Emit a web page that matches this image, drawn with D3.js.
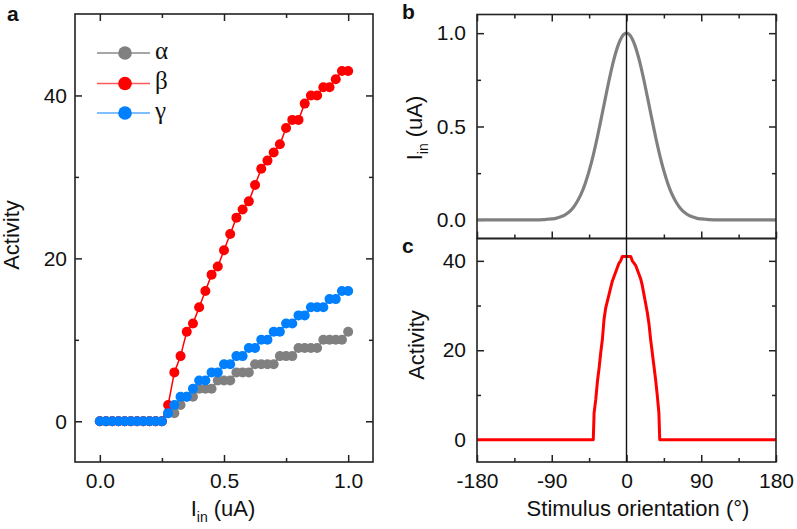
<!DOCTYPE html>
<html><head><meta charset="utf-8">
<script src="https://cdn.jsdelivr.net/npm/d3@7"></script>
<style>
body{margin:0;background:#fff}
svg{display:block}
text{font-family:Arial,"Liberation Sans",Helvetica,sans-serif;fill:#111}
</style>
</head><body>
<svg id="chart" width="797" height="529"></svg>
<script>
// ---------- Panel a data ----------
const iIn = [0,0.025,0.05,0.075,0.1,0.125,0.15,0.175,0.2,0.225,0.25,0.275,0.3,0.325,0.35,0.375,0.4,0.425,0.45,0.475,0.5,0.525,0.55,0.575,0.6,0.625,0.65,0.675,0.7,0.725,0.75,0.775,0.8,0.825,0.85,0.875,0.9,0.925,0.95,0.975,1.0];
const alphaAct = [0,0,0,0,0,0,0,0,0,0,0,1,1,2,3,3,4,4,4,5,5,5,6,6,6,7,7,7,7,8,8,8,9,9,9,9,10,10,10,10,11];
const betaAct  = [0,0,0,0,0,0,0,0,0,0,0,2,6,8,11,12,14,16,18,19,21,23,25,26,27,29,31,32,33,34,36,37,37,39,40,40,41,41,42,43,43];
const gammaAct = [0,0,0,0,0,0,0,0,0,0,0,1,2,3,3,4,5,5,6,6,7,7,8,8,9,9,10,10,11,11,12,12,13,13,14,14,14,15,15,16,16];
const seriesNames = ["α","β","γ"];
const xTicksA = [0,0.5,1.0];
const yTicksA = [0,20,40];

// ---------- Panel b data ----------
const orientB = [-180,-150,-120,-110,-100,-95,-90,-85,-80,-75,-70,-65,-60,-55,-50,-45,-40,-35,-30,-25,-20,-15,-10,-5,0,5,10,15,20,25,30,35,40,45,50,55,60,65,70,75,80,85,90,95,100,110,120,150,180];
const inputB  = [0,0,0,0,0.001,0.003,0.005,0.008,0.015,0.024,0.039,0.061,0.093,0.135,0.191,0.262,0.347,0.445,0.552,0.662,0.768,0.862,0.936,0.984,1.0,0.984,0.936,0.862,0.768,0.662,0.552,0.445,0.347,0.262,0.191,0.135,0.093,0.061,0.039,0.024,0.015,0.008,0.005,0.003,0.001,0,0,0,0];
const yTicksB = [0,0.5,1.0];

// ---------- Panel c data ----------
const orientC = [-180,-40,-39,-37,-35,-33,-31,-29,-27,-25,-23,-21,-19,-17,-15,-13,-11,-9,-7,-5,0,5,7,9,11,13,15,17,19,21,23,25,27,29,31,33,35,37,39,40,180];
const activityC = [0,0,6,9,13,16,19.5,22.5,27,29.5,31,32.5,34,35.5,36.5,37.5,38.5,39.5,40,41,41,41,40,39.5,39,38,37,36,34.5,32.5,30.5,28.5,26,22.5,19.5,16.5,13.5,10,6,0,0];
const xTicksOrient = [-180,-90,0,90,180];
const yTicksC = [0,20,40];

// ---------- styles ----------
const colGray = "#808080", colRed = "#ff0000", colBlue = "#0080ff";
const legendLine = ["#8a8a8a","#ff5a5a","#55aaff"];
const seriesCol = [colGray, colRed, colBlue];
const frameCol = "#222";
const tickFont = 21, titleFont = 22;

const svg = d3.select("#chart");

function styleAxis(g){
  g.select(".domain").remove();
  g.selectAll(".tick line").attr("stroke", frameCol).attr("stroke-width", 1.5);
  g.selectAll(".tick text").attr("font-size", tickFont).attr("fill", "#111")
    .attr("font-family", 'Arial,"Liberation Sans",sans-serif');
}
function addAxis(axisGen, scale, tr, values, opts){
  const major = opts.major, size = major ? 7 : 4;
  let ax = axisGen(scale).tickValues(values).tickSizeInner(-size).tickSizeOuter(0);
  if (opts.labels) ax = ax.tickFormat(opts.fmt).tickPadding(opts.pad); else ax = ax.tickFormat("");
  const g = svg.append("g").attr("transform", tr).call(ax);
  styleAxis(g);
  return g;
}

// ================= Panel a =================
const xA = d3.scaleLinear([-0.1, 1.1], [75, 373]);
const yA = d3.scaleLinear([-5, 50], [462, 14]);
const fmt1 = d3.format(".1f");

addAxis(d3.axisBottom, xA, "translate(0,462)", xTicksA, {major:true, labels:true, fmt:fmt1, pad:11});
addAxis(d3.axisBottom, xA, "translate(0,462)", [0.25,0.75], {major:false});
addAxis(d3.axisTop, xA, "translate(0,14)", xTicksA, {major:true});
addAxis(d3.axisTop, xA, "translate(0,14)", [0.25,0.75], {major:false});
addAxis(d3.axisLeft, yA, "translate(75,0)", yTicksA, {major:true, labels:true, fmt:d=>String(d), pad:8});
addAxis(d3.axisLeft, yA, "translate(75,0)", [10,30], {major:false});
addAxis(d3.axisRight, yA, "translate(373,0)", yTicksA, {major:true});
addAxis(d3.axisRight, yA, "translate(373,0)", [10,30], {major:false});

const seriesA = [alphaAct, betaAct, gammaAct];
const lineA = d3.line().x((d,i)=>xA(iIn[i])).y(d=>yA(d));
seriesA.forEach((vals, k) => {
  svg.append("path").attr("d", lineA(vals)).attr("fill","none")
    .attr("stroke", seriesCol[k]).attr("stroke-width", 1.5);
  svg.append("g").selectAll("circle").data(vals).join("circle")
    .attr("cx", (d,i)=>xA(iIn[i])).attr("cy", d=>yA(d)).attr("r", 5)
    .attr("fill", seriesCol[k]);
});

svg.append("rect").attr("x",75).attr("y",14).attr("width",298).attr("height",448)
  .attr("fill","none").attr("stroke",frameCol).attr("stroke-width",1.6);

// legend
const legY = [53, 83.5, 113];
seriesNames.forEach((nm, k) => {
  const g = svg.append("g");
  g.append("line").attr("x1",97).attr("x2",150).attr("y1",legY[k]).attr("y2",legY[k])
    .attr("stroke", legendLine[k]).attr("stroke-width",1.5);
  g.append("circle").attr("cx",125).attr("cy",legY[k]).attr("r",6.8).attr("fill",seriesCol[k]);
  g.append("text").attr("x",155).attr("y",legY[k]+5.5).attr("font-size",25)
    .style("font-family",'"Liberation Serif","DejaVu Serif",serif').text(nm);
});

// titles a
svg.append("text").attr("transform","translate(19,235) rotate(-90)").attr("text-anchor","middle")
  .attr("font-size",titleFont).text("Activity");
{
  const t = svg.append("text").attr("x",223).attr("y",516).attr("text-anchor","middle").attr("font-size",titleFont);
  t.append("tspan").text("I");
  t.append("tspan").attr("font-size",14).attr("dy",6).text("in");
  t.append("tspan").attr("dy",-6).text(" (uA)");
}
svg.append("text").attr("x",7).attr("y",21).attr("font-size",21).attr("font-weight","bold").text("a");

// ================= Panel b =================
const xB = d3.scaleLinear([-180, 180], [477, 776]);
const yB = d3.scaleLinear([-0.1, 1.1], [238.5, 14.5]);
const minorOrient = [-135,-45,45,135];

addAxis(d3.axisLeft, yB, "translate(477,0)", yTicksB, {major:true, labels:true, fmt:fmt1, pad:11});
addAxis(d3.axisLeft, yB, "translate(477,0)", [0.25,0.75], {major:false});
addAxis(d3.axisRight, yB, "translate(776,0)", yTicksB, {major:true});
addAxis(d3.axisRight, yB, "translate(776,0)", [0.25,0.75], {major:false});
addAxis(d3.axisTop, xB, "translate(0,14.5)", xTicksOrient, {major:true});
addAxis(d3.axisTop, xB, "translate(0,14.5)", minorOrient, {major:false});

const lineB = d3.line().x((d,i)=>xB(orientB[i])).y(d=>yB(d)).curve(d3.curveMonotoneX);
svg.append("path").attr("d", lineB(inputB)).attr("fill","none")
  .attr("stroke", colGray).attr("stroke-width", 3.2);

// ================= Panel c =================
const yC = d3.scaleLinear([-5, 45], [462, 238.5]);
addAxis(d3.axisLeft, yC, "translate(477,0)", yTicksC, {major:true, labels:true, fmt:d=>String(d), pad:11});
addAxis(d3.axisLeft, yC, "translate(477,0)", [10,30], {major:false});
addAxis(d3.axisRight, yC, "translate(776,0)", yTicksC, {major:true});
addAxis(d3.axisRight, yC, "translate(776,0)", [10,30], {major:false});
addAxis(d3.axisBottom, xB, "translate(0,462)", xTicksOrient, {major:true, labels:true, fmt:d=>String(d), pad:11});
addAxis(d3.axisBottom, xB, "translate(0,462)", minorOrient, {major:false});
addAxis(d3.axisBottom, xB, "translate(0,238.5)", xTicksOrient.filter(d=>d!==0), {major:true});
addAxis(d3.axisBottom, xB, "translate(0,238.5)", minorOrient, {major:false});

const lineC = d3.line().x((d,i)=>xB(orientC[i])).y(d=>yC(d));
svg.append("path").attr("d", lineC(activityC)).attr("fill","none")
  .attr("stroke", colRed).attr("stroke-width", 3).attr("stroke-linejoin","round");

// frames b, c and zero line
svg.append("rect").attr("x",477).attr("y",14.5).attr("width",299).attr("height",224)
  .attr("fill","none").attr("stroke",frameCol).attr("stroke-width",1.6);
svg.append("rect").attr("x",477).attr("y",238.5).attr("width",299).attr("height",223.5)
  .attr("fill","none").attr("stroke",frameCol).attr("stroke-width",1.6);
svg.append("line").attr("x1",xB(0)).attr("x2",xB(0)).attr("y1",14.5).attr("y2",462)
  .attr("stroke","#111").attr("stroke-width",1.4);

// titles b, c
{
  const t = svg.append("text").attr("transform","translate(422,128) rotate(-90)").attr("text-anchor","middle").attr("font-size",titleFont);
  t.append("tspan").text("I");
  t.append("tspan").attr("font-size",14).attr("dy",6).text("in");
  t.append("tspan").attr("dy",-6).text(" (uA)");
}
svg.append("text").attr("transform","translate(424,345) rotate(-90)").attr("text-anchor","middle")
  .attr("font-size",titleFont).text("Activity");
svg.append("text").attr("x",638).attr("y",516).attr("text-anchor","middle")
  .attr("font-size",titleFont).text("Stimulus orientation (°)");
svg.append("text").attr("x",402).attr("y",19).attr("font-size",21).attr("font-weight","bold").text("b");
svg.append("text").attr("x",402).attr("y",253).attr("font-size",21).attr("font-weight","bold").text("c");
</script>
</body></html>
